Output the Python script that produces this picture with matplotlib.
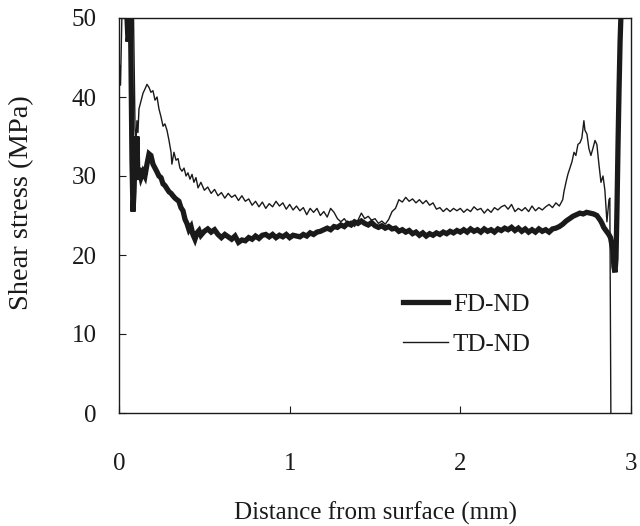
import numpy as np
import matplotlib
matplotlib.use('Agg')
import matplotlib.pyplot as plt

plt.rcParams['font.family'] = ['Liberation Serif', 'DejaVu Serif']

# TD-ND (thin line) - distance (mm), shear stress (MPa)
td_x = [0.003, 0.009, 0.015, 0.021, 0.082, 0.094, 0.100, 0.105, 0.111, 0.117,
        0.129, 0.141, 0.152, 0.164, 0.176, 0.187, 0.199, 0.211, 0.223, 0.234,
        0.246, 0.258, 0.269, 0.281, 0.293, 0.305, 0.310, 0.322, 0.334, 0.346,
        0.357, 0.369, 0.381, 0.393, 0.404, 0.416, 0.428, 0.439, 0.451, 0.463,
        0.48, 0.50, 0.52, 0.54, 0.56, 0.58, 0.60, 0.62, 0.64, 0.66,
        0.68, 0.70, 0.72, 0.74, 0.76, 0.78, 0.80, 0.82, 0.84, 0.86,
        0.88, 0.90, 0.92, 0.94, 0.96, 0.98, 1.00, 1.02, 1.04, 1.06,
        1.08, 1.10, 1.12, 1.14, 1.16, 1.18, 1.20, 1.22, 1.24, 1.26,
        1.28, 1.30, 1.32, 1.34, 1.36, 1.38, 1.40, 1.42, 1.44, 1.46,
        1.48, 1.50, 1.52, 1.54, 1.56, 1.58, 1.60, 1.62, 1.64, 1.66,
        1.68, 1.70, 1.72, 1.74, 1.76, 1.78, 1.80, 1.82, 1.84, 1.86,
        1.88, 1.90, 1.92, 1.94, 1.96, 1.98, 2.00, 2.02, 2.04, 2.06,
        2.08, 2.10, 2.12, 2.14, 2.16, 2.18, 2.20, 2.22, 2.24, 2.26,
        2.28, 2.30, 2.32, 2.34, 2.36, 2.38, 2.40, 2.42, 2.44, 2.46,
        2.48, 2.50, 2.52, 2.54, 2.56, 2.58, 2.60, 2.607, 2.619, 2.630,
        2.642, 2.654, 2.666, 2.677, 2.689, 2.701, 2.712, 2.724, 2.730, 2.742,
        2.753, 2.765, 2.777, 2.789, 2.800, 2.812, 2.824, 2.836, 2.847, 2.859,
        2.871, 2.876, 2.882]
td_y = [44.0, 41.5, 48.0, 55.0, 55.0, 36.0, 34.5, 37.0, 35.5, 38.5,
        39.5, 40.5, 41.0, 41.6, 41.2, 40.6, 40.8, 39.6, 40.0, 38.5,
        37.5, 36.3, 36.6, 35.8, 34.5, 33.0, 31.5, 33.0, 32.0, 32.2,
        31.0, 30.6, 31.0, 30.0, 30.4, 29.6, 30.2, 29.2, 29.8, 28.5,
        29.2, 28.2, 28.6, 27.8, 28.3, 27.5, 27.9, 27.2, 27.8, 27.3,
        27.6, 26.9, 27.5, 26.8, 27.1, 26.3, 26.8, 26.1, 26.7, 25.9,
        26.5, 26.1, 26.8, 26.2, 26.6, 25.8, 26.4, 25.7, 26.2, 25.6,
        26.0, 25.1, 25.9, 25.4, 25.9, 25.0, 25.5, 24.8, 25.9, 25.4,
        24.6, 24.2, 24.6, 24.0, 24.3, 23.6, 24.4, 25.3, 24.6, 24.9,
        24.4, 24.6, 24.0, 24.3, 23.9, 24.5, 25.5, 25.9, 27.0, 26.7,
        27.3, 26.8, 27.1, 26.6, 27.0, 26.5, 26.9, 26.3, 26.6, 25.8,
        26.0, 25.5, 25.9, 25.5, 25.9, 25.6, 25.9, 25.4, 25.8, 25.5,
        26.1, 25.7, 25.9, 25.3, 25.8, 25.4, 26.0, 25.7, 26.1, 26.3,
        25.8, 26.4, 25.5, 25.9, 25.6, 26.0, 25.5, 26.2, 25.6, 26.0,
        25.7, 26.1, 26.4, 26.0, 26.6, 26.2, 27.0, 28.0, 29.2, 30.2,
        31.0, 31.8, 33.0, 32.6, 34.0, 34.2, 34.8, 37.0, 35.8, 35.3,
        33.5, 32.6, 33.5, 34.5, 34.0, 31.5, 29.2, 30.0, 28.2, 24.2,
        27.0, 27.2, 0.0]

# FD-ND (thick line)
fd_x = [0.041, 0.047, 0.053, 0.059, 0.064, 0.070, 0.076, 0.082, 0.088, 0.094,
        0.100, 0.105, 0.111, 0.117, 0.129, 0.141, 0.152, 0.164, 0.176, 0.187,
        0.199, 0.211, 0.223, 0.234, 0.246, 0.258, 0.269, 0.281, 0.293, 0.305,
        0.316, 0.328, 0.340, 0.351, 0.363, 0.375, 0.387, 0.398, 0.410, 0.422,
        0.433, 0.445, 0.457, 0.469,
        0.48, 0.50, 0.52, 0.54, 0.56, 0.58, 0.60, 0.62, 0.64, 0.66,
        0.68, 0.70, 0.72, 0.74, 0.76, 0.78, 0.80, 0.82, 0.84, 0.86,
        0.88, 0.90, 0.92, 0.94, 0.96, 0.98, 1.00, 1.02, 1.04, 1.06,
        1.08, 1.10, 1.12, 1.14, 1.16, 1.18, 1.20, 1.22, 1.24, 1.26,
        1.28, 1.30, 1.32, 1.34, 1.36, 1.38, 1.40, 1.42, 1.44, 1.46,
        1.48, 1.50, 1.52, 1.54, 1.56, 1.58, 1.60, 1.62, 1.64, 1.66,
        1.68, 1.70, 1.72, 1.74, 1.76, 1.78, 1.80, 1.82, 1.84, 1.86,
        1.88, 1.90, 1.92, 1.94, 1.96, 1.98, 2.00, 2.02, 2.04, 2.06,
        2.08, 2.10, 2.12, 2.14, 2.16, 2.18, 2.20, 2.22, 2.24, 2.26,
        2.28, 2.30, 2.32, 2.34, 2.36, 2.38, 2.40, 2.42, 2.44, 2.46,
        2.48, 2.50, 2.52, 2.54, 2.56, 2.58, 2.60, 2.62, 2.64, 2.66,
        2.68, 2.70, 2.72, 2.74, 2.76, 2.78, 2.80, 2.82, 2.83, 2.84,
        2.85, 2.86, 2.87, 2.88, 2.894, 2.900, 2.906, 2.912, 2.918, 2.924,
        2.930, 2.936, 2.942, 2.950]
fd_y = [55.0, 50.0, 47.0, 48.0, 55.0, 45.0, 32.0, 25.5, 28.0, 33.0,
        30.5, 35.0, 29.5, 31.0, 29.8, 30.5, 30.0, 31.5, 32.8, 32.6,
        31.5, 31.0, 30.5, 30.0, 29.8, 29.0, 28.8, 28.4, 28.0, 27.8,
        27.5, 27.2, 27.0, 26.8, 26.0, 25.6, 24.5, 24.0, 23.2, 23.6,
        22.6, 22.0, 22.8, 23.1,
        22.5, 23.0, 23.3, 22.9, 23.2, 22.6, 22.2, 22.6, 22.3, 22.0,
        22.4, 21.6, 21.9, 21.8, 22.2, 22.0, 22.4, 22.1, 22.5, 22.6,
        22.3, 22.6, 22.2, 22.5, 22.3, 22.6, 22.2, 22.5, 22.4, 22.3,
        22.6, 22.4, 22.8, 22.6, 22.9, 23.0, 23.2, 23.4, 23.2, 23.6,
        23.5, 23.8, 23.6, 24.0, 23.8, 24.2, 24.0, 24.3, 24.0, 23.8,
        24.1, 23.7, 23.5, 23.7, 23.4, 23.6, 23.3, 23.4, 23.0, 23.2,
        22.9, 23.1, 22.7, 22.9, 22.5, 22.8, 22.4, 22.7, 22.5, 22.8,
        22.6, 22.9, 22.7, 23.0, 22.8, 23.1, 22.9, 23.2, 22.9, 23.3,
        23.0, 23.2, 22.9, 23.3, 23.0, 23.2, 22.9, 23.3, 23.1, 23.4,
        23.2, 23.5, 23.1, 23.4, 23.0, 23.3, 22.9, 23.2, 22.9, 23.3,
        23.0, 23.2, 22.9, 23.3, 23.4, 23.6, 23.9, 24.3, 24.6, 24.9,
        25.1, 25.3, 25.2, 25.4, 25.3, 25.2, 25.0, 24.4, 24.0, 23.5,
        23.2, 22.9, 22.6, 22.2, 20.5, 18.5, 17.8, 19.5, 26.0, 34.0,
        41.0, 47.0, 51.0, 56.0]

labels = ['FD-ND', 'TD-ND']
x_ticks = [0, 1, 2, 3]
y_ticks = [0, 10, 20, 30, 40, 50]

ink = '#1a1a1a'
fig = plt.figure(figsize=(6.4, 5.26), dpi=100)
ax = fig.add_axes([119/640, 113/526, 512/640, 395/526])

ax.plot(fd_x, fd_y, color=ink, lw=3.8, label=labels[0], solid_joinstyle='miter')
ax.plot(td_x, td_y, color=ink, lw=1.0, label=labels[1])

ax.set_xlim(0, 3)
ax.set_ylim(0, 50)
ax.set_xticks(x_ticks)
ax.set_yticks(y_ticks)
ax.tick_params(axis='x', direction='in', length=5, width=0.8, pad=29,
               labelsize=18, colors=ink)
ax.tick_params(axis='y', direction='in', length=5, width=0.8, pad=16,
               labelsize=18, colors=ink)
for s in ax.spines.values():
    s.set_linewidth(1.0)
    s.set_color(ink)

fig.text(22/640, 1 - 203/526, 'Shear stress (MPa)', rotation=90,
         ha='center', va='center', fontsize=20.5, color=ink)
fig.text(376/640, 1 - 513/526, 'Distance from surface (mm)',
         ha='center', va='center', fontsize=18, color=ink)

ax.legend(loc='upper left', bbox_to_anchor=(0.53, 0.335), frameon=False,
          fontsize=18, handlelength=1.8, handletextpad=0.2, labelspacing=0.7,
          borderpad=0, labelcolor=ink)

fig.savefig('out.png', dpi=100)
